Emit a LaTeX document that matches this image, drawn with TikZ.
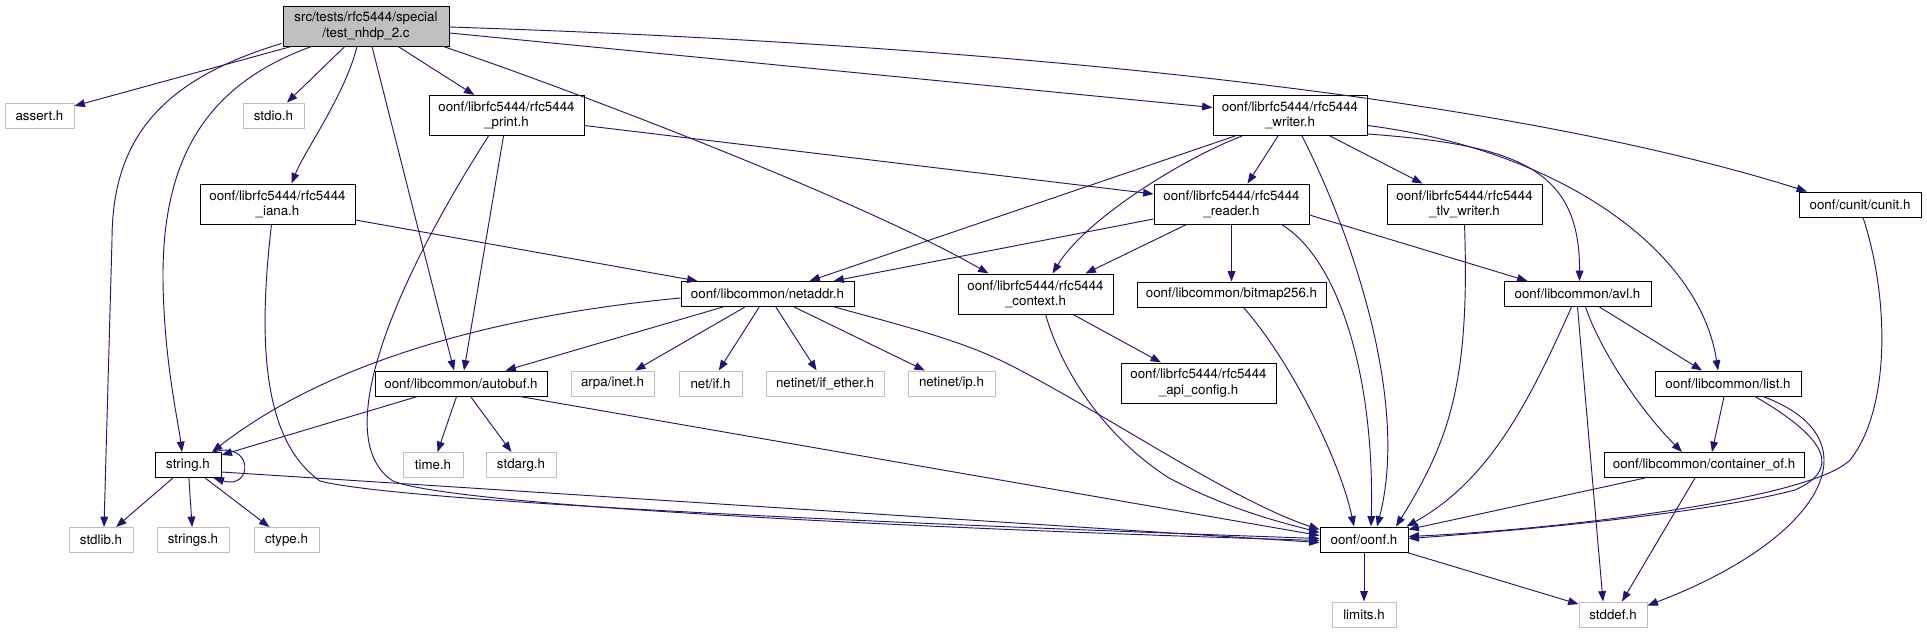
\documentclass[tikz,border=0pt]{standalone}
\usepackage{fontspec}
\setmainfont{TeX Gyre Heros}
\usepackage{tikz}
\usetikzlibrary{arrows.meta}
\definecolor{DoxNavy}{HTML}{191970}
\definecolor{DoxGrey}{HTML}{BFBFBF}
\newcommand{\doxfont}{\fontsize{10}{11.4}\selectfont}
\tikzset{
  hdrbox/.style={draw=black, fill=white, line width=0.75pt, align=center, inner sep=1pt, minimum height=18.75pt, font=\doxfont},
  sysbox/.style={hdrbox, draw=DoxGrey},
  srcbox/.style={hdrbox, fill=DoxGrey},
  twoline/.style={minimum height=30pt},
  boxw/.style={minimum width=#1*0.75pt},
  incarr/.style={-{Triangle[length=7.8pt,width=5.8pt]}, draw=DoxNavy, line width=0.7pt}
}

\begin{document}
\begin{tikzpicture}[x=0.75pt, y=-0.75pt]
\path[fill=white] (0,0) rectangle (1927,633);
\useasboundingbox (0,0) rectangle (1927,633);

\node[srcbox, twoline, boxw=166] (main) at (366,26) {src/tests/rfc5444/special\\/test\_nhdp\_2.c};
\node[sysbox, boxw=69] (assert) at (39.5,115.5) {assert.h};
\node[sysbox, boxw=61] (stdio) at (273.5,115.5) {stdio.h};
\node[hdrbox, twoline, boxw=155] (print) at (506.5,115.5) {oonf/librfc5444/rfc5444\\\_print.h};
\node[hdrbox, twoline, boxw=154] (writer) at (1290,115.5) {oonf/librfc5444/rfc5444\\\_writer.h};
\node[hdrbox, twoline, boxw=155] (iana) at (277.5,204) {oonf/librfc5444/rfc5444\\\_iana.h};
\node[hdrbox, twoline, boxw=155] (reader) at (1231.5,204) {oonf/librfc5444/rfc5444\\\_reader.h};
\node[hdrbox, twoline, boxw=155] (tlvwriter) at (1464.5,204) {oonf/librfc5444/rfc5444\\\_tlv\_writer.h};
\node[hdrbox, boxw=122] (cunit) at (1860,204.5) {oonf/cunit/cunit.h};
\node[hdrbox, boxw=173] (netaddr) at (767.5,294) {oonf/libcommon/netaddr.h};
\node[hdrbox, twoline, boxw=155] (context) at (1035.5,294) {oonf/librfc5444/rfc5444\\\_context.h};
\node[hdrbox, boxw=189] (bitmap) at (1231.5,294.5) {oonf/libcommon/bitmap256.h};
\node[hdrbox, boxw=147] (avl) at (1577.5,294) {oonf/libcommon/avl.h};
\node[hdrbox, boxw=172] (autobuf) at (461,383.5) {oonf/libcommon/autobuf.h};
\node[sysbox, boxw=83] (arpainet) at (612.5,383.5) {arpa/inet.h};
\node[sysbox, boxw=63] (netif) at (710.5,383.5) {net/if.h};
\node[sysbox, boxw=118] (ifether) at (825,383.5) {netinet/if\_ether.h};
\node[sysbox, boxw=87] (netip) at (951.5,383.5) {netinet/ip.h};
\node[hdrbox, twoline, boxw=155] (apiconfig) at (1198.5,383) {oonf/librfc5444/rfc5444\\\_api\_config.h};
\node[hdrbox, boxw=146] (list) at (1728,383.5) {oonf/libcommon/list.h};
\node[hdrbox, boxw=66] (string) at (188,465) {string.h};
\node[sysbox, boxw=60] (time) at (433,465) {time.h};
\node[sysbox, boxw=70] (stdarg) at (521,465) {stdarg.h};
\node[hdrbox, boxw=200] (containerof) at (1704,465) {oonf/libcommon/container\_of.h};
\node[sysbox, boxw=64] (stdlib) at (101,540) {stdlib.h};
\node[sysbox, boxw=72] (strings) at (193,540) {strings.h};
\node[sysbox, boxw=65] (ctype) at (286.5,540) {ctype.h};
\node[hdrbox, boxw=88] (oonf) at (1364,539.5) {oonf/oonf.h};
\node[sysbox, boxw=64] (limits) at (1364,614.5) {limits.h};
\node[sysbox, boxw=68] (stddef) at (1613,614.5) {stddef.h};

\draw[incarr] (main) -- (assert);
\draw[incarr] ([shift={(-1,-3)}]main.south west) .. controls (160,80) and (112,140) .. (112,240) -- ([shift={(3,0)}]stdlib.north);
\draw[incarr] ([shift={(29,0)}]main.south west) .. controls (205,85) and (162,160) .. (163,280) .. controls (164,360) and (178,420) .. ([shift={(-6,0)}]string.north);
\draw[incarr] (main) -- (stdio);
\draw[incarr] ([shift={(-9,0)}]main.south) .. controls (345,95) and (305,150) .. ([shift={(14,0)}]iana.north);
\draw[incarr] ([shift={(6,0)}]main.south) -- ([shift={(-7,0)}]autobuf.north);
\draw[incarr] (main) -- (print);
\draw[incarr] ([shift={(-6,0)}]main.south east) .. controls (600,100) and (870,205) .. ([shift={(-47,0)}]context.north);
\draw[incarr] ([shift={(0,7)}]main.east) -- ([shift={(0,-8)}]writer.west);
\draw[incarr] ([shift={(0,1)}]main.east) .. controls (1000,45) and (1500,95) .. ([shift={(-53,0)}]cunit.north);

\draw[incarr] ([shift={(-3,0)}]print.south) -- ([shift={(3,0)}]autobuf.north);
\draw[incarr] ([shift={(0,10)}]print.east) -- ([shift={(0,-10)}]reader.west);
\draw[incarr] ([shift={(-18,0)}]print.south) .. controls (390,290) and (330,440) .. (393,481) .. controls (450,505) and (900,528) .. ([shift={(0,1)}]oonf.west);

\draw[incarr] ([shift={(0,16)}]iana.east) -- ([shift={(-70,0)}]netaddr.north);
\draw[incarr] ([shift={(-6,0)}]iana.south) .. controls (258,340) and (262,440) .. (320,481) .. controls (400,502) and (900,524) .. ([shift={(0,-1)}]oonf.west);

\draw[incarr] ([shift={(-55,0)}]writer.south) -- ([shift={(42,0)}]netaddr.north);
\draw[incarr] ([shift={(-48,0)}]writer.south) .. controls (1180,160) and (1085,220) .. ([shift={(17,0)}]context.north);
\draw[incarr] ([shift={(-12,0)}]writer.south) -- ([shift={(16,0)}]reader.north);
\draw[incarr] ([shift={(12,0)}]writer.south) .. controls (1350,230) and (1410,400) .. ([shift={(13,0)}]oonf.north);
\draw[incarr] ([shift={(40,0)}]writer.south) -- ([shift={(-42,0)}]tlvwriter.north);
\draw[incarr] ([shift={(0,-2)}]writer.south east) .. controls (1520,145) and (1580,170) .. ([shift={(2,0)}]avl.north);
\draw[incarr] ([shift={(0,10)}]writer.east) .. controls (1560,150) and (1700,250) .. ([shift={(-10,0)}]list.north);

\draw[incarr] ([shift={(0,15)}]reader.west) -- ([shift={(66,0)}]netaddr.north);
\draw[incarr] ([shift={(-45,0)}]reader.south) -- ([shift={(50,0)}]context.north);
\draw[incarr] (reader) -- (bitmap);
\draw[incarr] ([shift={(0,11)}]reader.east) -- ([shift={(-50,0)}]avl.north);
\draw[incarr] ([shift={(50,0)}]reader.south) .. controls (1340,260) and (1375,380) .. ([shift={(7,0)}]oonf.north);

\draw[incarr] (tlvwriter.south) .. controls (1470,380) and (1450,440) .. ([shift={(32,0)}]oonf.north);
\draw[incarr] ([shift={(3,0)}]cunit.south) .. controls (1890,300) and (1890,410) .. (1850,460) .. controls (1810,500) and (1550,530) .. ([shift={(0,-3)}]oonf.east);
\draw[incarr] ([shift={(12,0)}]bitmap.south) .. controls (1290,360) and (1340,460) .. ([shift={(-10,0)}]oonf.north);

\draw[incarr] ([shift={(0,4)}]netaddr.west) .. controls (500,315) and (330,360) .. ([shift={(24,0)}]string.north);
\draw[incarr] (netaddr) -- (autobuf);
\draw[incarr] (netaddr) -- (arpainet);
\draw[incarr] (netaddr) -- (netif);
\draw[incarr] (netaddr) -- (ifether);
\draw[incarr] (netaddr) -- (netip);
\draw[incarr] ([shift={(-20,0)}]netaddr.south east) .. controls (900,325) and (960,340) .. (1006,363) .. controls (1100,410) and (1230,500) .. ([shift={(0,-10)}]oonf.west);

\draw[incarr] (context) -- (apiconfig);
\draw[incarr] ([shift={(10,0)}]context.south) .. controls (1065,380) and (1110,440) .. (1169,478) .. controls (1230,510) and (1280,522) .. ([shift={(0,-7)}]oonf.west);

\draw[incarr] ([shift={(-6,0)}]avl.south) .. controls (1530,400) and (1490,480) .. ([shift={(-2,0)}]oonf.north east);
\draw[incarr] (avl.south) -- ([shift={(-10,0)}]stddef.north);
\draw[incarr] ([shift={(8,0)}]avl.south) .. controls (1600,350) and (1640,410) .. ([shift={(-22,0)}]containerof.north);
\draw[incarr] ([shift={(22,0)}]avl.south) -- ([shift={(-26,0)}]list.north);

\draw[incarr] ([shift={(-4,0)}]list.south) -- ([shift={(8,0)}]containerof.north);
\draw[incarr] ([shift={(27,0)}]list.south) .. controls (1830,440) and (1840,470) .. (1795,490) .. controls (1700,515) and (1500,532) .. ([shift={(0,-1)}]oonf.east);
\draw[incarr] ([shift={(35,0)}]list.south) .. controls (1880,440) and (1820,540) .. ([shift={(0,-9)}]stddef.east);

\draw[incarr] ([shift={(-59,0)}]containerof.south) -- ([shift={(0,-10)}]oonf.east);
\draw[incarr] ([shift={(-9,0)}]containerof.south) -- ([shift={(9,0)}]stddef.north);

\draw[incarr] (autobuf) -- (string);
\draw[incarr] (autobuf) -- (time);
\draw[incarr] (autobuf) -- (stdarg);
\draw[incarr] ([shift={(59,0)}]autobuf.south) -- ([shift={(0,-4)}]oonf.west);

\draw[incarr] ([shift={(-8,0)}]string.north east) .. controls +(40,-12) and +(40,12) .. ([shift={(-8,0)}]string.south east);
\draw[incarr] (string) -- (stdlib);
\draw[incarr] (string) -- (strings);
\draw[incarr] (string) -- (ctype);
\draw[incarr] ([shift={(0,7)}]string.east) -- ([shift={(0,3)}]oonf.west);

\draw[incarr] (oonf) -- (limits);
\draw[incarr] (oonf) -- (stddef);
\end{tikzpicture}
\end{document}
